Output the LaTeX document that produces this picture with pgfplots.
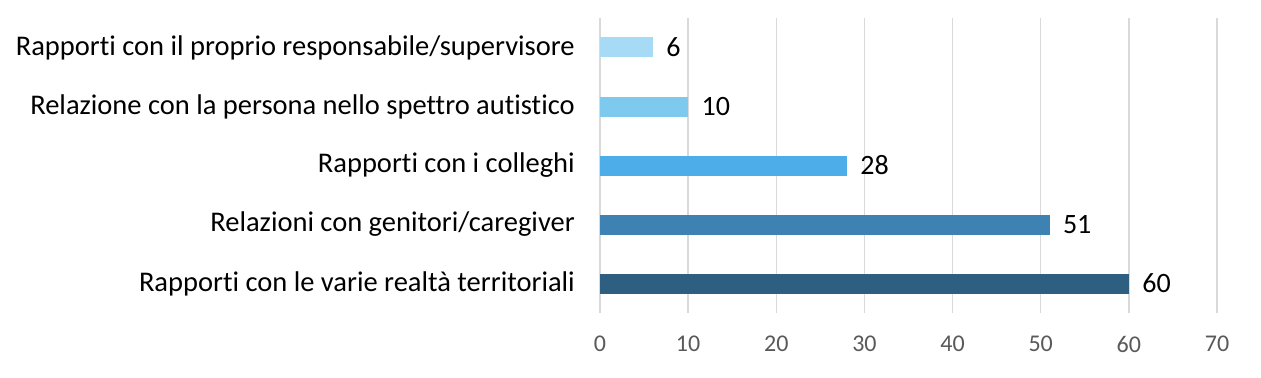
\documentclass[border=0pt]{standalone}
\usepackage{fontspec}
\setmainfont{Carlito}[Ligatures={NoCommon}]
\usepackage{pgfplots}
\pgfplotsset{compat=1.18}
\definecolor{c1}{HTML}{A7DBF5}
\definecolor{c2}{HTML}{7ECAEF}
\definecolor{c3}{HTML}{4DADE8}
\definecolor{c4}{HTML}{3E81B3}
\definecolor{c5}{HTML}{2E5F80}
\definecolor{gridc}{HTML}{D9D9D9}
\definecolor{tickc}{HTML}{595959}
\begin{document}
\begin{tikzpicture}
\begin{axis}[
  name=ax,
  scale only axis,
  width=617bp, height=295bp,
  xmin=0, xmax=70,
  ymin=-0.5, ymax=4.5,
  xbar, bar width=20bp, bar shift=0pt,
  xtick={0,10,...,70},
  ytick={0,1,2,3,4},
  yticklabels={Rapporti con le varie realtà territoriali, Relazioni con genitori/caregiver, Rapporti con i colleghi, Relazione con la persona nello spettro autistico, Rapporti con il proprio responsabile/supervisore},
  xmajorgrids, ymajorgrids=false,
  grid style={draw=gridc, line width=1.5bp},
  axis line style={draw=none},
  major tick length=0pt,
  /pgf/number format/assume math mode=true,
  xticklabel style={font=\fontsize{24bp}{28bp}\selectfont, text=tickc, inner sep=0pt, yshift=-23bp},
  yticklabel style={font=\fontsize{28.5bp}{32bp}\selectfont, text=black, inner sep=0pt, xshift=-25bp},
  nodes near coords,
  nodes near coords style={font=\fontsize{28bp}{32bp}\selectfont, text=black, anchor=west, xshift=10bp},
  every axis plot/.append style={draw=none},
]
\addplot[fill=c5] coordinates {(60,0)};
\addplot[fill=c4] coordinates {(51,1)};
\addplot[fill=c3] coordinates {(28,2)};
\addplot[fill=c2] coordinates {(10,3)};
\addplot[fill=c1] coordinates {(6,4)};
\end{axis}
\pgfresetboundingbox
\path ([shift={(-600bp,-64bp)}]ax.south west) rectangle ([shift={(44bp,18bp)}]ax.north east);
\end{tikzpicture}
\end{document}
